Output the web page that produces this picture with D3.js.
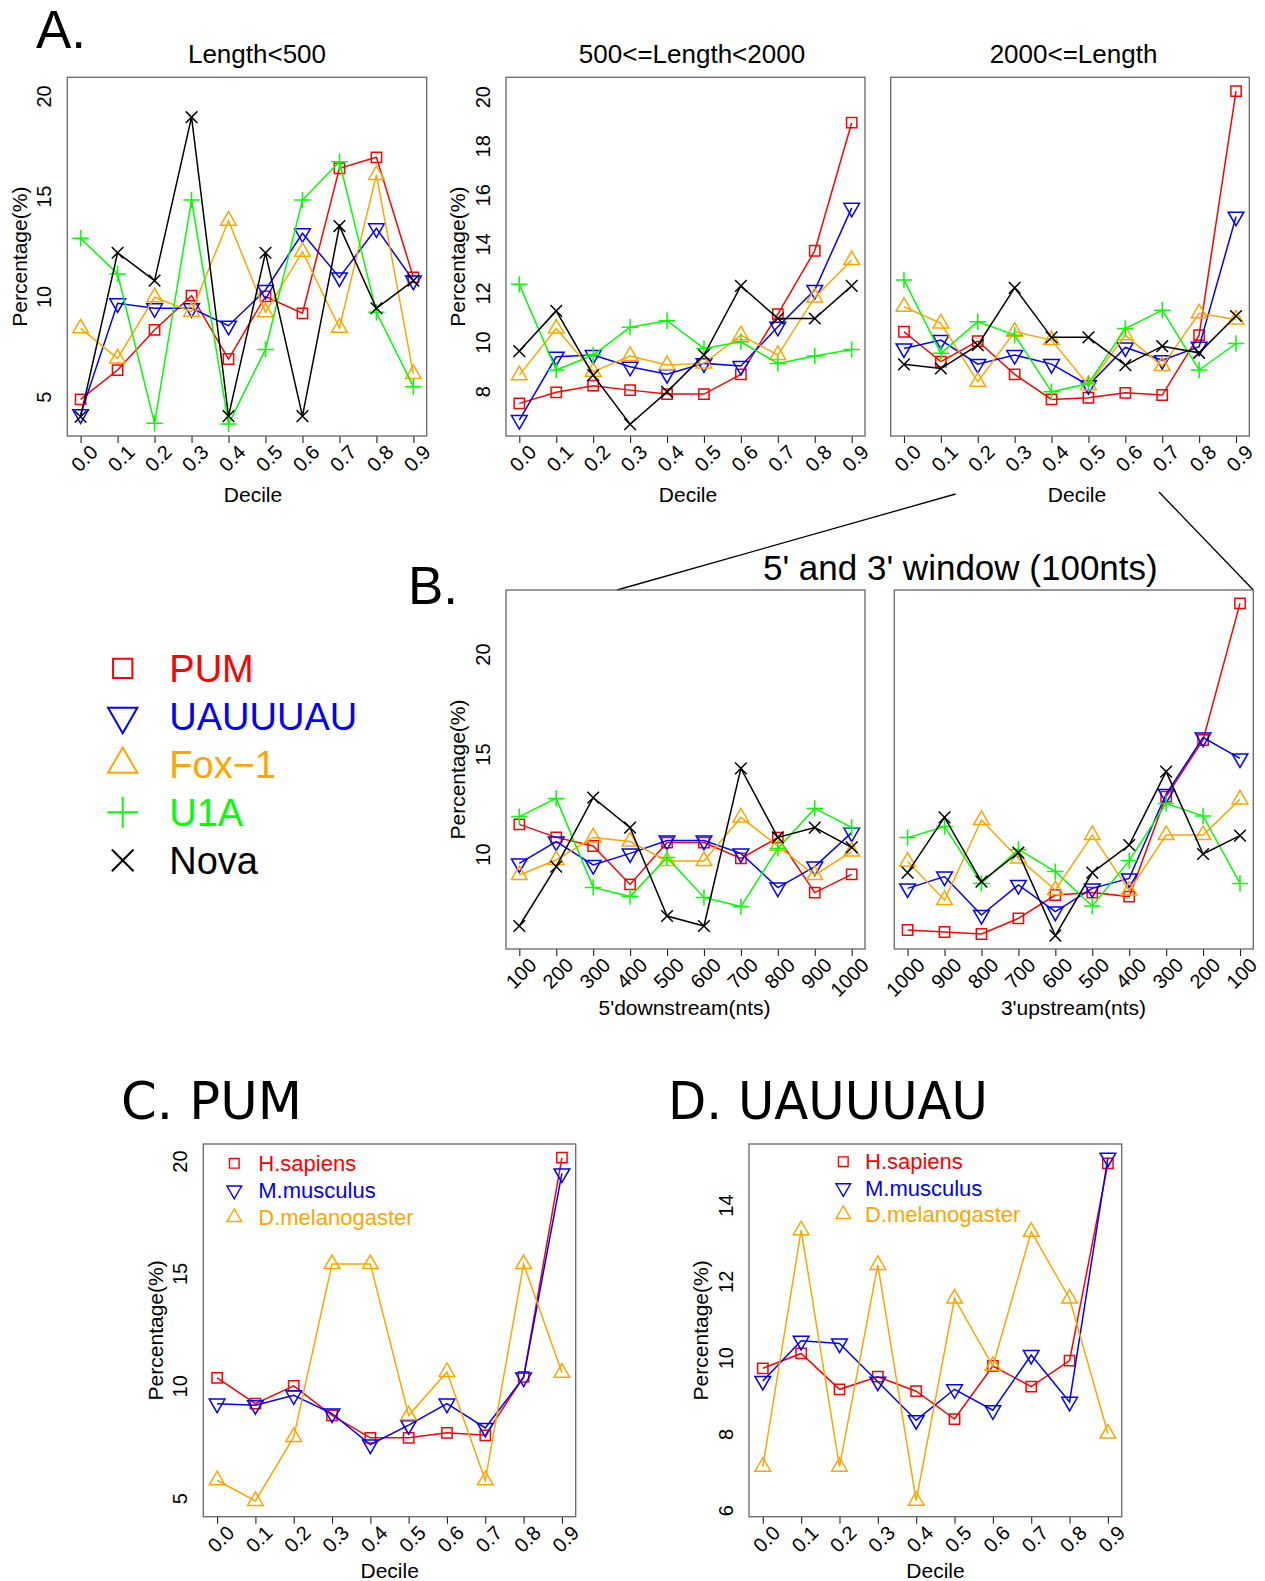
<!DOCTYPE html>
<html>
<head>
<meta charset="utf-8">
<script src="https://cdn.jsdelivr.net/npm/d3@7"></script>
<style>
  body { margin: 0; background: #fff; }
  svg { display: block; }
</style>
</head>
<body>
<svg id="fig" width="1265" height="1581"></svg>
<script>
// ---------- data ----------
const decileValues = [0, 0.1, 0.2, 0.3, 0.4, 0.5, 0.6, 0.7, 0.8, 0.9];
const decileLabels = ["0.0", "0.1", "0.2", "0.3", "0.4", "0.5", "0.6", "0.7", "0.8", "0.9"];
const windowIndex = [1, 2, 3, 4, 5, 6, 7, 8, 9, 10];
const downstreamLabels = ["100", "200", "300", "400", "500", "600", "700", "800", "900", "1000"];
const upstreamLabels = ["1000", "900", "800", "700", "600", "500", "400", "300", "200", "100"];

const motifs = ["PUM", "UAUUUAU", "Fox\u22121", "U1A", "Nova"];
const motifColors = ["#ff0000", "#0000ff", "#ffa500", "#00ff00", "#000000"];
const motifShapes = ["square", "triDown", "triUp", "plus", "cross"];

const species = ["H.sapiens", "M.musculus", "D.melanogaster"];
const speciesColors = ["#ff0000", "#0000ff", "#ffa500"];
const speciesShapes = ["square", "triDown", "triUp"];

// rows follow the motif order: PUM, UAUUUAU, Fox-1, U1A, Nova
const shortLength = [
  [4.87, 6.33, 8.33, 10.04, 6.88, 10.0, 9.16, 16.39, 16.94, 10.95],
  [4.12, 9.66, 9.41, 9.41, 8.54, 10.32, 13.15, 10.95, 13.4, 10.79],
  [8.41, 6.91, 9.96, 9.24, 13.78, 9.21, 12.23, 8.44, 16.06, 6.13],
  [12.9, 11.12, 3.67, 14.81, 3.64, 7.36, 14.81, 16.72, 9.21, 5.5],
  [4.0, 12.18, 10.79, 18.94, 4.03, 12.18, 4.03, 13.51, 9.41, 10.79]
];
const midLength = [
  [7.5, 7.95, 8.22, 8.04, 7.88, 7.88, 8.68, 11.14, 13.72, 18.94],
  [6.82, 9.4, 9.47, 8.99, 8.69, 9.13, 9.02, 10.62, 12.12, 15.47],
  [8.65, 10.55, 8.79, 9.43, 9.06, 9.13, 10.28, 9.47, 11.82, 13.34],
  [12.35, 8.86, 9.47, 10.6, 10.87, 9.74, 10.01, 9.13, 9.43, 9.7],
  [9.63, 11.27, 8.65, 6.65, 7.97, 9.47, 12.29, 10.96, 10.96, 12.29]
];
const longLength = [
  [10.42, 9.2, 10.04, 8.68, 7.66, 7.73, 7.93, 7.84, 10.28, 20.23],
  [9.74, 10.08, 9.1, 9.47, 9.1, 8.24, 9.78, 9.26, 9.81, 15.11],
  [11.44, 10.76, 8.38, 10.42, 10.08, 8.24, 10.28, 9.02, 11.17, 10.92],
  [12.53, 9.54, 10.83, 10.28, 7.97, 8.31, 10.55, 11.3, 8.86, 9.94],
  [9.09, 8.92, 9.87, 12.21, 10.19, 10.19, 9.06, 9.83, 9.56, 11.06]
];
const fivePrimeWindow = [
  [11.48, 10.83, 10.4, 8.48, 10.57, 10.57, 9.78, 10.82, 8.07, 8.98],
  [9.53, 10.62, 9.45, 10.03, 10.67, 10.67, 10.03, 8.32, 9.37, 11.07],
  [8.95, 9.7, 10.83, 10.62, 9.65, 9.65, 11.83, 10.4, 8.95, 10.12],
  [11.87, 12.78, 8.33, 7.87, 9.83, 7.83, 7.37, 10.28, 12.28, 11.33],
  [6.4, 9.37, 12.82, 11.32, 6.9, 6.4, 14.28, 10.83, 11.32, 10.33]
];
const threePrimeWindow = [
  [6.2, 6.1, 6.0, 6.78, 7.95, 8.07, 7.87, 12.87, 15.7, 22.53],
  [8.28, 8.87, 6.95, 8.45, 7.12, 8.28, 8.78, 13.0, 15.82, 14.78],
  [9.62, 7.7, 11.7, 9.78, 8.2, 10.95, 8.17, 10.95, 10.95, 12.73],
  [10.82, 11.37, 8.53, 10.23, 9.12, 7.4, 9.67, 12.53, 11.9, 8.53],
  [9.07, 11.83, 8.62, 10.07, 5.92, 9.07, 10.45, 14.12, 10.0, 10.92]
];
// rows follow the species order: H.sapiens, M.musculus, D.melanogaster
const pumSpecies = [
  [10.36, 9.21, 10.0, 8.69, 7.69, 7.69, 7.91, 7.8, 10.4, 20.15],
  [9.21, 9.14, 9.58, 8.77, 7.39, 8.25, 9.21, 8.13, 10.37, 19.45],
  [5.8, 4.88, 7.73, 15.42, 15.42, 8.69, 10.62, 5.8, 15.42, 10.59]
];
const uauSpecies = [
  [9.72, 10.11, 9.17, 9.5, 9.12, 8.39, 9.78, 9.24, 9.92, 15.09],
  [9.39, 10.44, 10.37, 9.37, 8.36, 9.17, 8.62, 10.07, 8.84, 15.24],
  [7.14, 13.34, 7.14, 12.43, 6.25, 11.55, 9.78, 13.3, 11.55, 8.01]
];

const ticksA1 = [5, 10, 15, 20];
const ticksA2 = [8, 10, 12, 14, 16, 18, 20];
const ticksB = [10, 15, 20];
const ticksC = [5, 10, 15, 20];
const ticksD = [6, 8, 10, 12, 14];

// ---------- drawing ----------
const FONT = '"Liberation Sans", Arial, Helvetica, sans-serif';
const TICK_FONT = 20;
const SYM = 15.5;
const svg = d3.select("#fig");

// open plotting symbols (square, triangles, plus, cross) of nominal size s
function symbolPath(shape, cx, cy, s) {
  const p = d3.path();
  if (shape === "square") {
    const h = 0.3325 * s;
    p.rect(cx - h, cy - h, 2 * h, 2 * h);
  } else if (shape === "triUp" || shape === "triDown") {
    const r = 0.583 * s, xc = 0.505 * s, dir = shape === "triUp" ? 1 : -1;
    p.moveTo(cx, cy - dir * r);
    p.lineTo(cx + xc, cy + dir * r / 2);
    p.lineTo(cx - xc, cy + dir * r / 2);
    p.closePath();
  } else if (shape === "plus") {
    const h = 0.53 * s;
    p.moveTo(cx - h, cy); p.lineTo(cx + h, cy);
    p.moveTo(cx, cy - h); p.lineTo(cx, cy + h);
  } else {
    const h = 0.375 * s;
    p.moveTo(cx - h, cy - h); p.lineTo(cx + h, cy + h);
    p.moveTo(cx - h, cy + h); p.lineTo(cx + h, cy - h);
  }
  return p.toString();
}

function text(x, y, str, size, opts = {}) {
  const t = svg.append("text")
    .attr("x", x).attr("y", y)
    .attr("font-family", opts.family || FONT)
    .attr("font-size", size)
    .attr("fill", opts.fill || "#000")
    .attr("text-anchor", opts.anchor || "start")
    .text(str);
  if (opts.rotate) {
    t.attr("transform", `rotate(${opts.rotate},${x},${y})`);
  }
  if (opts.dy) t.attr("dy", opts.dy);
  if (opts.width) t.attr("textLength", opts.width).attr("lengthAdjust", "spacingAndGlyphs");
  return t;
}

function drawPanel(cfg) {
  const [x0, y0, x1, y1] = cfg.box;
  const x = d3.scaleLinear().domain(cfg.xDomain).range([x0, x1]);
  const y = d3.scaleLinear().domain(cfg.yDomain).range([y1, y0]);
  const g = svg.append("g");

  // bottom axis with slanted labels
  const xa = g.append("g")
    .attr("transform", `translate(0,${y1})`)
    .call(d3.axisBottom(x).tickValues(cfg.xVals)
      .tickFormat((d, i) => cfg.xLabels[i]).tickSizeInner(7).tickSizeOuter(0))
    .attr("font-family", FONT).attr("font-size", TICK_FONT);
  xa.select(".domain").remove();
  xa.selectAll(".tick line").attr("stroke", "#222").attr("stroke-width", 1.1);
  xa.selectAll(".tick text")
    .attr("x", 0).attr("y", 0).attr("dy", "0.35em")
    .attr("text-anchor", "end").attr("fill", "#000")
    .attr("transform", "translate(13,12.5) rotate(-45)");

  // left axis, labels parallel to the axis
  if (cfg.yTicks) {
    const ya = g.append("g")
      .attr("transform", `translate(${x0},0)`)
      .call(d3.axisLeft(y).tickValues(cfg.yTicks).tickSize(0))
      .attr("font-family", FONT).attr("font-size", TICK_FONT);
    ya.select(".domain").remove();
    ya.selectAll(".tick line").remove();
    ya.selectAll(".tick text")
      .attr("x", 0).attr("y", 0).attr("dy", "0.35em")
      .attr("text-anchor", "middle").attr("fill", "#000")
      .attr("transform", "translate(-23,0) rotate(-90)");
    text(x0 - 48, (y0 + y1) / 2, "Percentage(%)", 21, { anchor: "middle", rotate: -90, dy: "0.35em" });
  }

  // frame
  g.append("rect")
    .attr("x", x0).attr("y", y0).attr("width", x1 - x0).attr("height", y1 - y0)
    .attr("fill", "none").attr("stroke", "#666").attr("stroke-width", 1.3);

  // series
  const line = d3.line().x((d, i) => x(cfg.xVals[i])).y(d => y(d));
  cfg.series.forEach((vals, k) => {
    const sg = g.append("g");
    sg.append("path").attr("d", line(vals))
      .attr("fill", "none").attr("stroke", cfg.colors[k]).attr("stroke-width", 1.5);
    sg.selectAll("path.pt").data(vals).join("path").attr("class", "pt")
      .attr("d", (d, i) => symbolPath(cfg.shapes[k], x(cfg.xVals[i]), y(d), SYM))
      .attr("fill", "none").attr("stroke", cfg.colors[k]).attr("stroke-width", 1.5);
  });

  if (cfg.title) text(cfg.titleX, cfg.titleY, cfg.title, 26, { anchor: "middle" });
  if (cfg.xTitle) text(cfg.xTitleX, cfg.xTitleY, cfg.xTitle, 21, { anchor: "middle" });
  return { x, y };
}

const decDomain = [-0.036, 0.936];
const idxDomain = [0.64, 10.36];

// ----- A. length classes -----
text(36, 48, "A.", 53);
drawPanel({
  box: [67.3, 77.3, 426.7, 436], xVals: decileValues, xLabels: decileLabels,
  xDomain: decDomain, yDomain: [3.04, 20.93], yTicks: ticksA1,
  series: shortLength, colors: motifColors, shapes: motifShapes,
  title: "Length<500", titleX: 257, titleY: 63,
  xTitle: "Decile", xTitleX: 253, xTitleY: 501.5
});
drawPanel({
  box: [506, 77.3, 865, 436], xVals: decileValues, xLabels: decileLabels,
  xDomain: decDomain, yDomain: [6.17, 20.79], yTicks: ticksA2,
  series: midLength, colors: motifColors, shapes: motifShapes,
  title: "500<=Length<2000", titleX: 692, titleY: 63,
  xTitle: "Decile", xTitleX: 688, xTitleY: 501.5
});
drawPanel({
  box: [890.7, 77.3, 1249.3, 436], xVals: decileValues, xLabels: decileLabels,
  xDomain: decDomain, yDomain: [6.17, 20.79], yTicks: null,
  series: longLength, colors: motifColors, shapes: motifShapes,
  title: "2000<=Length", titleX: 1073.5, titleY: 63,
  xTitle: "Decile", xTitleX: 1077, xTitleY: 501.5
});

// motif legend
const legendA = svg.append("g");
motifs.forEach((m, i) => {
  const cy = 668.3 + i * 48;
  legendA.append("path").attr("d", symbolPath(motifShapes[i], 122.7, cy, 29))
    .attr("fill", "none").attr("stroke", motifColors[i]).attr("stroke-width", 2);
  legendA.append("text").attr("x", 169.3).attr("y", cy + 13.3)
    .attr("font-family", FONT).attr("font-size", 38).attr("fill", motifColors[i]).text(m);
});

// ----- B. 5' and 3' windows -----
text(408, 604, "B.", 53);
text(763, 580, "5' and 3' window (100nts)", 35);
svg.append("line").attr("x1", 955.6).attr("y1", 494).attr("x2", 617).attr("y2", 590)
  .attr("stroke", "#000").attr("stroke-width", 1.3);
svg.append("line").attr("x1", 1159).attr("y1", 492).attr("x2", 1253.3).attr("y2", 590)
  .attr("stroke", "#000").attr("stroke-width", 1.3);
drawPanel({
  box: [506, 590, 865, 949], xVals: windowIndex, xLabels: downstreamLabels,
  xDomain: idxDomain, yDomain: [5.25, 23.2], yTicks: ticksB,
  series: fivePrimeWindow, colors: motifColors, shapes: motifShapes,
  xTitle: "5'downstream(nts)", xTitleX: 684.5, xTitleY: 1015
});
drawPanel({
  box: [894.3, 590, 1253.3, 949], xVals: windowIndex, xLabels: upstreamLabels,
  xDomain: idxDomain, yDomain: [5.25, 23.2], yTicks: null,
  series: threePrimeWindow, colors: motifColors, shapes: motifShapes,
  xTitle: "3'upstream(nts)", xTitleX: 1073.5, xTitleY: 1015
});

// ----- C. PUM / D. UAUUUAU across species -----
const DEJAVU = '"DejaVu Sans", "Liberation Sans", sans-serif';
text(121, 1119, "C. PUM", 52, { family: DEJAVU, width: 181 });
text(668, 1119, "D. UAUUUAU", 52, { family: DEJAVU, width: 320 });

drawPanel({
  box: [203.3, 1144, 575.7, 1516.7], xVals: decileValues, xLabels: decileLabels,
  xDomain: decDomain, yDomain: [4.18, 20.76], yTicks: ticksC,
  series: pumSpecies, colors: speciesColors, shapes: speciesShapes,
  xTitle: "Decile", xTitleX: 389.7, xTitleY: 1578
});
drawPanel({
  box: [749, 1144, 1121.7, 1516.7], xVals: decileValues, xLabels: decileLabels,
  xDomain: decDomain, yDomain: [5.83, 15.6], yTicks: ticksD,
  series: uauSpecies, colors: speciesColors, shapes: speciesShapes,
  xTitle: "Decile", xTitleX: 935.5, xTitleY: 1578
});

function speciesLegend(mx, tx, y0, step) {
  const lg = svg.append("g");
  species.forEach((s, i) => {
    const cy = y0 + i * step;
    lg.append("path").attr("d", symbolPath(speciesShapes[i], mx, cy, 14.5))
      .attr("fill", "none").attr("stroke", speciesColors[i]).attr("stroke-width", 1.4);
    lg.append("text").attr("x", tx).attr("y", cy + 7.7)
      .attr("font-family", FONT).attr("font-size", 22).attr("fill", speciesColors[i]).text(s);
  });
}
speciesLegend(234.3, 258.3, 1163.3, 27);
speciesLegend(843.3, 865, 1161.7, 26.3);
</script>
</body>
</html>
